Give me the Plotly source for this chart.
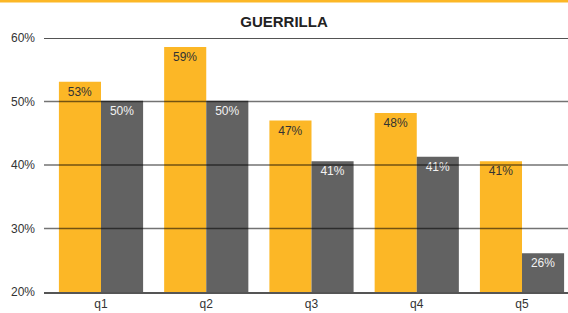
import plotly.graph_objects as go

categories = ["q1", "q2", "q3", "q4", "q5"]
series_a = [53.1, 58.6, 47.0, 48.2, 40.6]
series_b = [50.1, 50.1, 40.6, 41.3, 26.1]
y_ticks = [20, 30, 40, 50, 60]
y_tick_labels = ["20%", "30%", "40%", "50%", "60%"]
title_text = "GUERRILLA"

ORANGE = "#FCB726"
GREY = "#626262"
FONT = "Liberation Sans, Arial, sans-serif"

fig = go.Figure()
fig.add_trace(go.Bar(
    x=categories, y=series_a, name="Serie 1", marker=dict(color=ORANGE, line=dict(width=0)),
    texttemplate="%{y:.0f}%", textposition="inside", insidetextanchor="end", textangle=0,
    insidetextfont=dict(color="#333333", size=12, family=FONT), constraintext="none",
))
fig.add_trace(go.Bar(
    x=categories, y=series_b, name="Serie 2", marker=dict(color=GREY, line=dict(width=0)),
    texttemplate="%{y:.0f}%", textposition="inside", insidetextanchor="end", textangle=0,
    insidetextfont=dict(color="#f2f2f2", size=12, family=FONT), constraintext="none",
))

shapes = []
for v in y_ticks[1:]:
    top = v == y_ticks[-1]
    shapes.append(dict(type="line", xref="paper", yref="y", x0=0, x1=1, y0=v, y1=v,
                       layer="above",
                       line=dict(color="#1a1a1a" if top else "rgba(0,0,0,0.55)", width=1.5)))
# orange top border
shapes.append(dict(type="line", xref="paper", yref="paper", x0=-0.2, x1=1.2,
                   y0=1 + 37 / 254, y1=1 + 37 / 254, layer="above",
                   line=dict(color=ORANGE, width=3)))

fig.update_layout(
    width=568, height=313,
    margin=dict(l=44, r=0, t=38, b=21),
    paper_bgcolor="white", plot_bgcolor="white",
    barmode="group", bargap=0.2, bargroupgap=0,
    showlegend=False,
    font=dict(family=FONT, size=12, color="#333333"),
    title=dict(text="<b>" + title_text + "</b>", x=0.5, xref="container", xanchor="center",
               y=1 - 22 / 313, yanchor="middle",
               font=dict(family=FONT, size=15, color="#222222")),
    shapes=shapes,
)
fig.update_xaxes(range=[-0.5416, 4.437], showgrid=False, showline=True, linecolor="#555555",
                 linewidth=1.5, ticks="", tickfont=dict(size=12, color="#333333"), fixedrange=True)
fig.update_yaxes(range=[20, 60], tickvals=y_ticks, ticktext=y_tick_labels, showgrid=False,
                 zeroline=False, showline=False, ticks="", ticklabelstandoff=8,
                 tickfont=dict(size=12, color="#333333"), fixedrange=True)

fig.write_html("out.html", config={"displayModeBar": False},
               post_script="document.body.style.margin='0';document.body.style.overflow='hidden';")
